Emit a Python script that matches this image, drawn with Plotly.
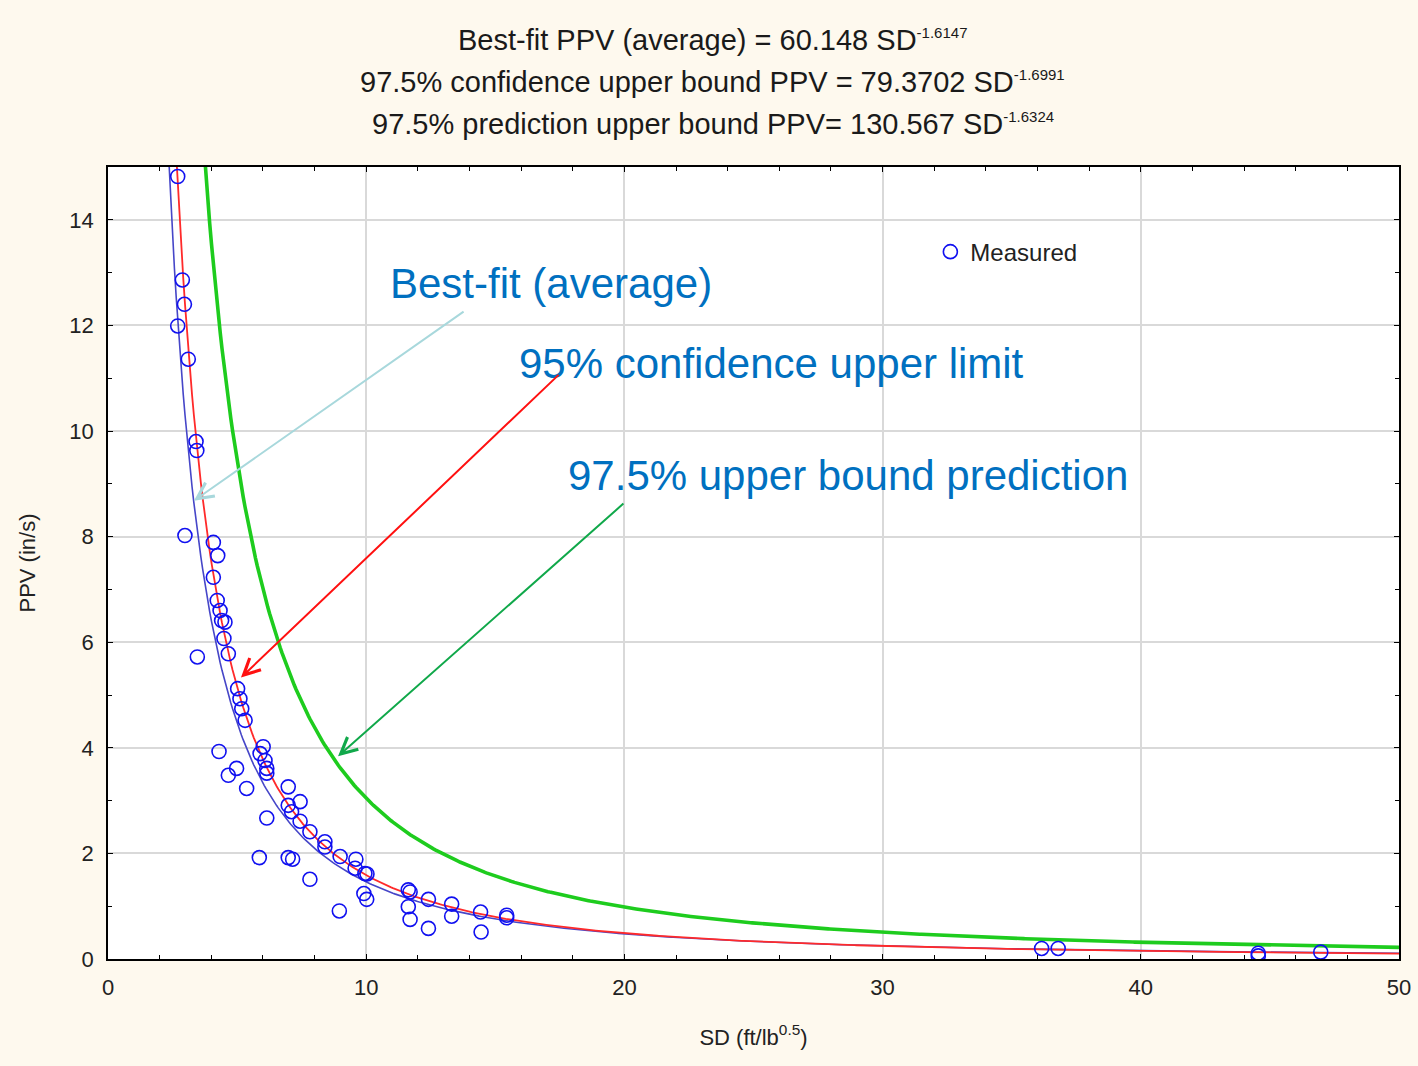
import numpy as np
import plotly.graph_objects as go

# Measured points (SD, PPV)
sd_measured = [2.70, 2.88, 2.96, 2.70, 3.11, 3.41, 3.44, 2.98, 3.46, 4.08,
               4.25, 4.08, 4.23, 4.34, 4.40, 4.53, 4.49, 4.66, 5.02, 5.11,
               5.18, 5.31, 4.30, 6.01, 5.89, 6.08, 6.15, 6.15, 4.98, 4.66,
               5.37, 6.98, 7.44, 6.98, 7.11, 6.15, 7.44, 7.82, 8.40, 8.40,
               5.86, 6.98, 7.15, 8.99, 9.60, 9.57, 9.95, 10.03, 7.82, 9.91,
               10.02, 8.96, 11.63, 11.70, 11.63, 11.70, 12.41, 12.41, 13.31, 13.31,
               14.43, 14.45, 15.44, 15.44, 36.16, 36.80, 44.55, 44.55, 46.97]
ppv_measured = [14.82, 12.86, 12.40, 11.99, 11.36, 9.80, 9.63, 8.02, 5.72, 7.89,
                7.64, 7.23, 6.79, 6.60, 6.41, 6.38, 6.07, 5.78, 5.12, 4.93,
                4.74, 4.52, 3.93, 4.02, 3.89, 3.76, 3.61, 3.52, 3.61, 3.48,
                3.23, 3.26, 2.98, 2.91, 2.79, 2.67, 2.61, 2.41, 2.22, 2.12,
                1.92, 1.92, 1.89, 1.94, 1.89, 1.72, 1.62, 1.61, 1.51, 1.24,
                1.13, 0.91, 1.31, 1.27, 0.99, 0.75, 1.13, 0.58, 1.04, 0.81,
                0.89, 0.51, 0.83, 0.78, 0.20, 0.20, 0.11, 0.06, 0.13]

# Fitted power-law models PPV = a * SD^b (from the chart's title)
fit_names = ["Best-fit (average)", "97.5% confidence upper bound", "97.5% prediction upper bound"]
fit_a = [60.148, 79.3702, 130.567]
fit_b = [-1.6147, -1.6991, -1.6324]
fit_colors = ["#4646C8", "#FF2A2A", "#1ECC1E"]
fit_widths = [1.6, 1.8, 3.6]

x_ticks = [0, 10, 20, 30, 40, 50]
y_ticks = [0, 2, 4, 6, 8, 10, 12, 14]

FONT = "Liberation Sans, Arial, sans-serif"
BG = "#FEF9EE"

fig = go.Figure()

sd_grid = np.linspace(2.3, 50, 700)
for name, a, b, c, w in zip(fit_names, fit_a, fit_b, fit_colors, fit_widths):
    fig.add_trace(go.Scatter(x=sd_grid, y=a * sd_grid ** b, mode="lines",
                             line=dict(color=c, width=w), name=name,
                             showlegend=False, hoverinfo="skip"))

fig.add_trace(go.Scatter(x=sd_measured, y=ppv_measured, mode="markers", name="Measured",
                         marker=dict(symbol="circle-open", size=14, color="#1010F0",
                                     line=dict(width=1.6, color="#1010F0"))))

axis_common = dict(showline=True, linecolor="black", linewidth=1.5, mirror="ticks",
                   ticks="inside", ticklen=5, tickcolor="black", tickwidth=1.2,
                   showgrid=True, gridcolor="#D9D9D9", gridwidth=1.5, zeroline=False,
                   ticklabelstandoff=8, automargin=False,
                   tickfont=dict(family=FONT, size=22, color="#222222"))

fig.update_xaxes(range=[0, 50], tickvals=x_ticks,
                 minor=dict(dtick=2, ticks="inside", ticklen=4, tickcolor="black", showgrid=False),
                 title=dict(text="SD (ft/lb<sup>0.5</sup>)", font=dict(family=FONT, size=22, color="#222222"),
                            standoff=30),
                 **axis_common)
fig.update_yaxes(range=[0, 15], tickvals=y_ticks,
                 minor=dict(dtick=1, ticks="inside", ticklen=4, tickcolor="black", showgrid=False),
                 title=dict(text="PPV (in/s)", font=dict(family=FONT, size=22, color="#222222"),
                            standoff=28),
                 **axis_common)

title_bases = ["Best-fit PPV (average) = 60.148 SD",
               "97.5% confidence upper bound PPV = 79.3702 SD",
               "97.5% prediction upper bound PPV= 130.567 SD"]
title_exps = ["-1.6147", "-1.6991", "-1.6324"]
for base, ex, yy in zip(title_bases, title_exps, [1.1604, 1.1073, 1.0543]):
    txt = base + '<sup><span style="font-size:15px">' + ex + '</span></sup>'
    fig.add_annotation(text=txt, xref="paper", yref="paper", x=0.4686, y=yy,
                       showarrow=False, xanchor="center", yanchor="middle",
                       font=dict(family=FONT, size=29, color="#1a1a1a"))

label_color = "#0070C0"
labels = [("Best-fit (average)", 17.16, 12.79),
          ("95% confidence upper limit", 25.70, 11.275),
          ("97.5% upper bound prediction", 28.66, 9.156)]
for txt, xx, yy in labels:
    fig.add_annotation(text=txt, x=xx, y=yy, xref="x", yref="y", showarrow=False,
                       xanchor="center", yanchor="middle",
                       font=dict(family=FONT, size=42, color=label_color))

arrows = [((3.33, 8.68), (13.83, 12.28), "#A8D8DC"),
          ((5.15, 5.33), (17.51, 11.09), "#FF1010"),
          ((8.91, 3.84), (20.02, 8.65), "#10A84A")]
for (hx, hy), (tx, ty), c in arrows:
    fig.add_annotation(x=hx, y=hy, ax=tx, ay=ty, xref="x", yref="y", axref="x", ayref="y",
                       text="", showarrow=True, arrowhead=5, arrowsize=1.6, arrowwidth=2,
                       arrowcolor=c)

fig.update_layout(
    width=1418, height=1066,
    paper_bgcolor=BG, plot_bgcolor="white",
    margin=dict(l=108, r=19, t=167, b=107, autoexpand=False),
    font=dict(family=FONT, color="#222222"),
    legend=dict(x=0.637, y=0.921, xanchor="left", yanchor="top", bgcolor="rgba(0,0,0,0)",
                font=dict(family=FONT, size=24, color="#222222")),
)

fig.write_html("out.html", config={"displayModeBar": False},
               post_script="document.body.style.margin='0';document.body.style.background='" + BG + "';")
